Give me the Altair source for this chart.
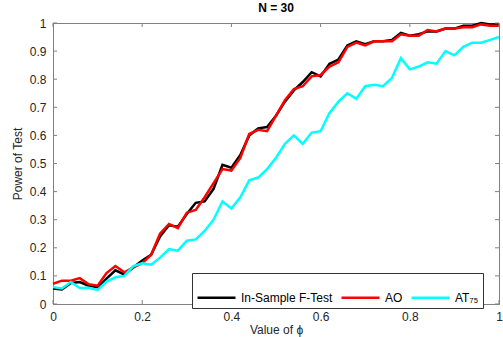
import altair as alt
import pandas as pd

phi = [round(i * 0.02, 2) for i in range(51)]

in_sample = [0.055, 0.052, 0.075, 0.078, 0.065, 0.06, 0.09, 0.12, 0.105, 0.13,
             0.155, 0.175, 0.24, 0.28, 0.275, 0.32, 0.36, 0.365, 0.41, 0.495,
             0.485, 0.53, 0.60, 0.625, 0.63, 0.67, 0.72, 0.76, 0.79, 0.825,
             0.81, 0.855, 0.87, 0.92, 0.935, 0.925, 0.935, 0.935, 0.94, 0.965,
             0.955, 0.96, 0.97, 0.97, 0.98, 0.98, 0.99, 0.99, 1.0, 0.995, 0.995]

ao = [0.072, 0.083, 0.083, 0.092, 0.07, 0.065, 0.11, 0.135, 0.113, 0.13,
      0.145, 0.175, 0.25, 0.285, 0.27, 0.325, 0.335, 0.38, 0.43, 0.48,
      0.475, 0.52, 0.605, 0.62, 0.615, 0.67, 0.725, 0.765, 0.775, 0.81,
      0.815, 0.845, 0.86, 0.915, 0.93, 0.92, 0.935, 0.935, 0.935, 0.96,
      0.955, 0.955, 0.975, 0.97, 0.98, 0.98, 0.985, 0.985, 0.995, 0.99, 0.99]

at75 = [0.06, 0.055, 0.078, 0.057, 0.058, 0.05, 0.08, 0.095, 0.1, 0.135,
        0.145, 0.14, 0.165, 0.195, 0.19, 0.225, 0.23, 0.26, 0.30, 0.365,
        0.34, 0.38, 0.44, 0.45, 0.48, 0.52, 0.57, 0.60, 0.57, 0.61,
        0.615, 0.68, 0.72, 0.75, 0.73, 0.775, 0.78, 0.775, 0.805, 0.875,
        0.835, 0.845, 0.86, 0.855, 0.90, 0.885, 0.915, 0.93, 0.93, 0.94, 0.95]

series_names = ["In-Sample F-Test", "AO", "AT\u2087\u2085"]
series_colors = ["#000000", "#ff0000", "#00ffff"]
tick_values = [0, 0.2, 0.4, 0.6, 0.8, 1.0]
ytick_values = [0, 0.1, 0.2, 0.3, 0.4, 0.5, 0.6, 0.7, 0.8, 0.9, 1.0]

rows = []
for order, (name, vals) in enumerate(zip(series_names, [in_sample, ao, at75])):
    for p, v in zip(phi, vals):
        rows.append({"phi": p, "power": v, "series": name, "order": order})
df = pd.DataFrame(rows)

W, H = 446, 281
FONT = "Liberation Sans"

xscale = alt.Scale(domain=[0, 1], nice=False)
yscale = alt.Scale(domain=[0, 1], nice=False)

xaxis = alt.Axis(values=tick_values, format="~g", title="Value of \u03d5",
                 grid=False, tickSize=0, labelPadding=7, titlePadding=2,
                 domainColor="#808080", labelOverlap=False, labelFlush=False)
yaxis = alt.Axis(values=ytick_values, format="~g", title="Power of Test",
                 grid=False, tickSize=0, labelPadding=7, titlePadding=5,
                 domainColor="#808080", labelOverlap=False, labelFlush=False)

lines = alt.Chart(df).mark_line(strokeWidth=2.5).encode(
    x=alt.X("phi:Q", scale=xscale, axis=xaxis),
    y=alt.Y("power:Q", scale=yscale, axis=yaxis),
    color=alt.Color("series:N",
                    scale=alt.Scale(domain=series_names, range=series_colors),
                    sort=series_names,
                    legend=alt.Legend(title=None, orient="none", direction="horizontal",
                                      legendX=139, legendY=250,
                                      symbolType="stroke", symbolSize=1444,
                                      symbolStrokeWidth=2.5, labelFontSize=12,
                                      labelFont=FONT, columnPadding=3,
                                      labelOffset=4,
                                      strokeColor="#333333", fillColor="white",
                                      padding=4, labelLimit=200)),
    order=alt.Order("order:Q"),
    detail="series:N",
)

xt = pd.DataFrame({"t": tick_values})
yt = pd.DataFrame({"t": ytick_values})

xticks_bottom = alt.Chart(xt).mark_rule(color="#808080", strokeWidth=1).encode(
    x=alt.X("t:Q", scale=xscale, axis=xaxis), y=alt.value(H), y2=alt.value(H - 4))
xticks_top = alt.Chart(xt).mark_rule(color="#808080", strokeWidth=1).encode(
    x=alt.X("t:Q", scale=xscale, axis=xaxis), y=alt.value(0), y2=alt.value(4))
yticks_left = alt.Chart(yt).mark_rule(color="#808080", strokeWidth=1).encode(
    y=alt.Y("t:Q", scale=yscale, axis=yaxis), x=alt.value(0), x2=alt.value(4))
yticks_right = alt.Chart(yt).mark_rule(color="#808080", strokeWidth=1).encode(
    y=alt.Y("t:Q", scale=yscale, axis=yaxis), x=alt.value(W), x2=alt.value(W - 4))

chart = alt.layer(lines, xticks_bottom, xticks_top, yticks_left, yticks_right).properties(
    width=W, height=H,
    title=alt.TitleParams("N = 30", fontSize=12, fontWeight="bold", font=FONT,
                          offset=2, color="#000000"),
    autosize=alt.AutoSizeParams(type="none"),
    padding={"left": 53, "top": 23, "right": 4, "bottom": 33},
).configure(background="white").configure_view(
    stroke="#808080", strokeWidth=1
).configure_axis(
    labelFont=FONT, titleFont=FONT, labelFontSize=12, titleFontSize=12,
    labelColor="#262626", titleColor="#262626", titleFontWeight="normal"
)

chart.save("out.html", embed_options={"renderer": "svg", "actions": False})
